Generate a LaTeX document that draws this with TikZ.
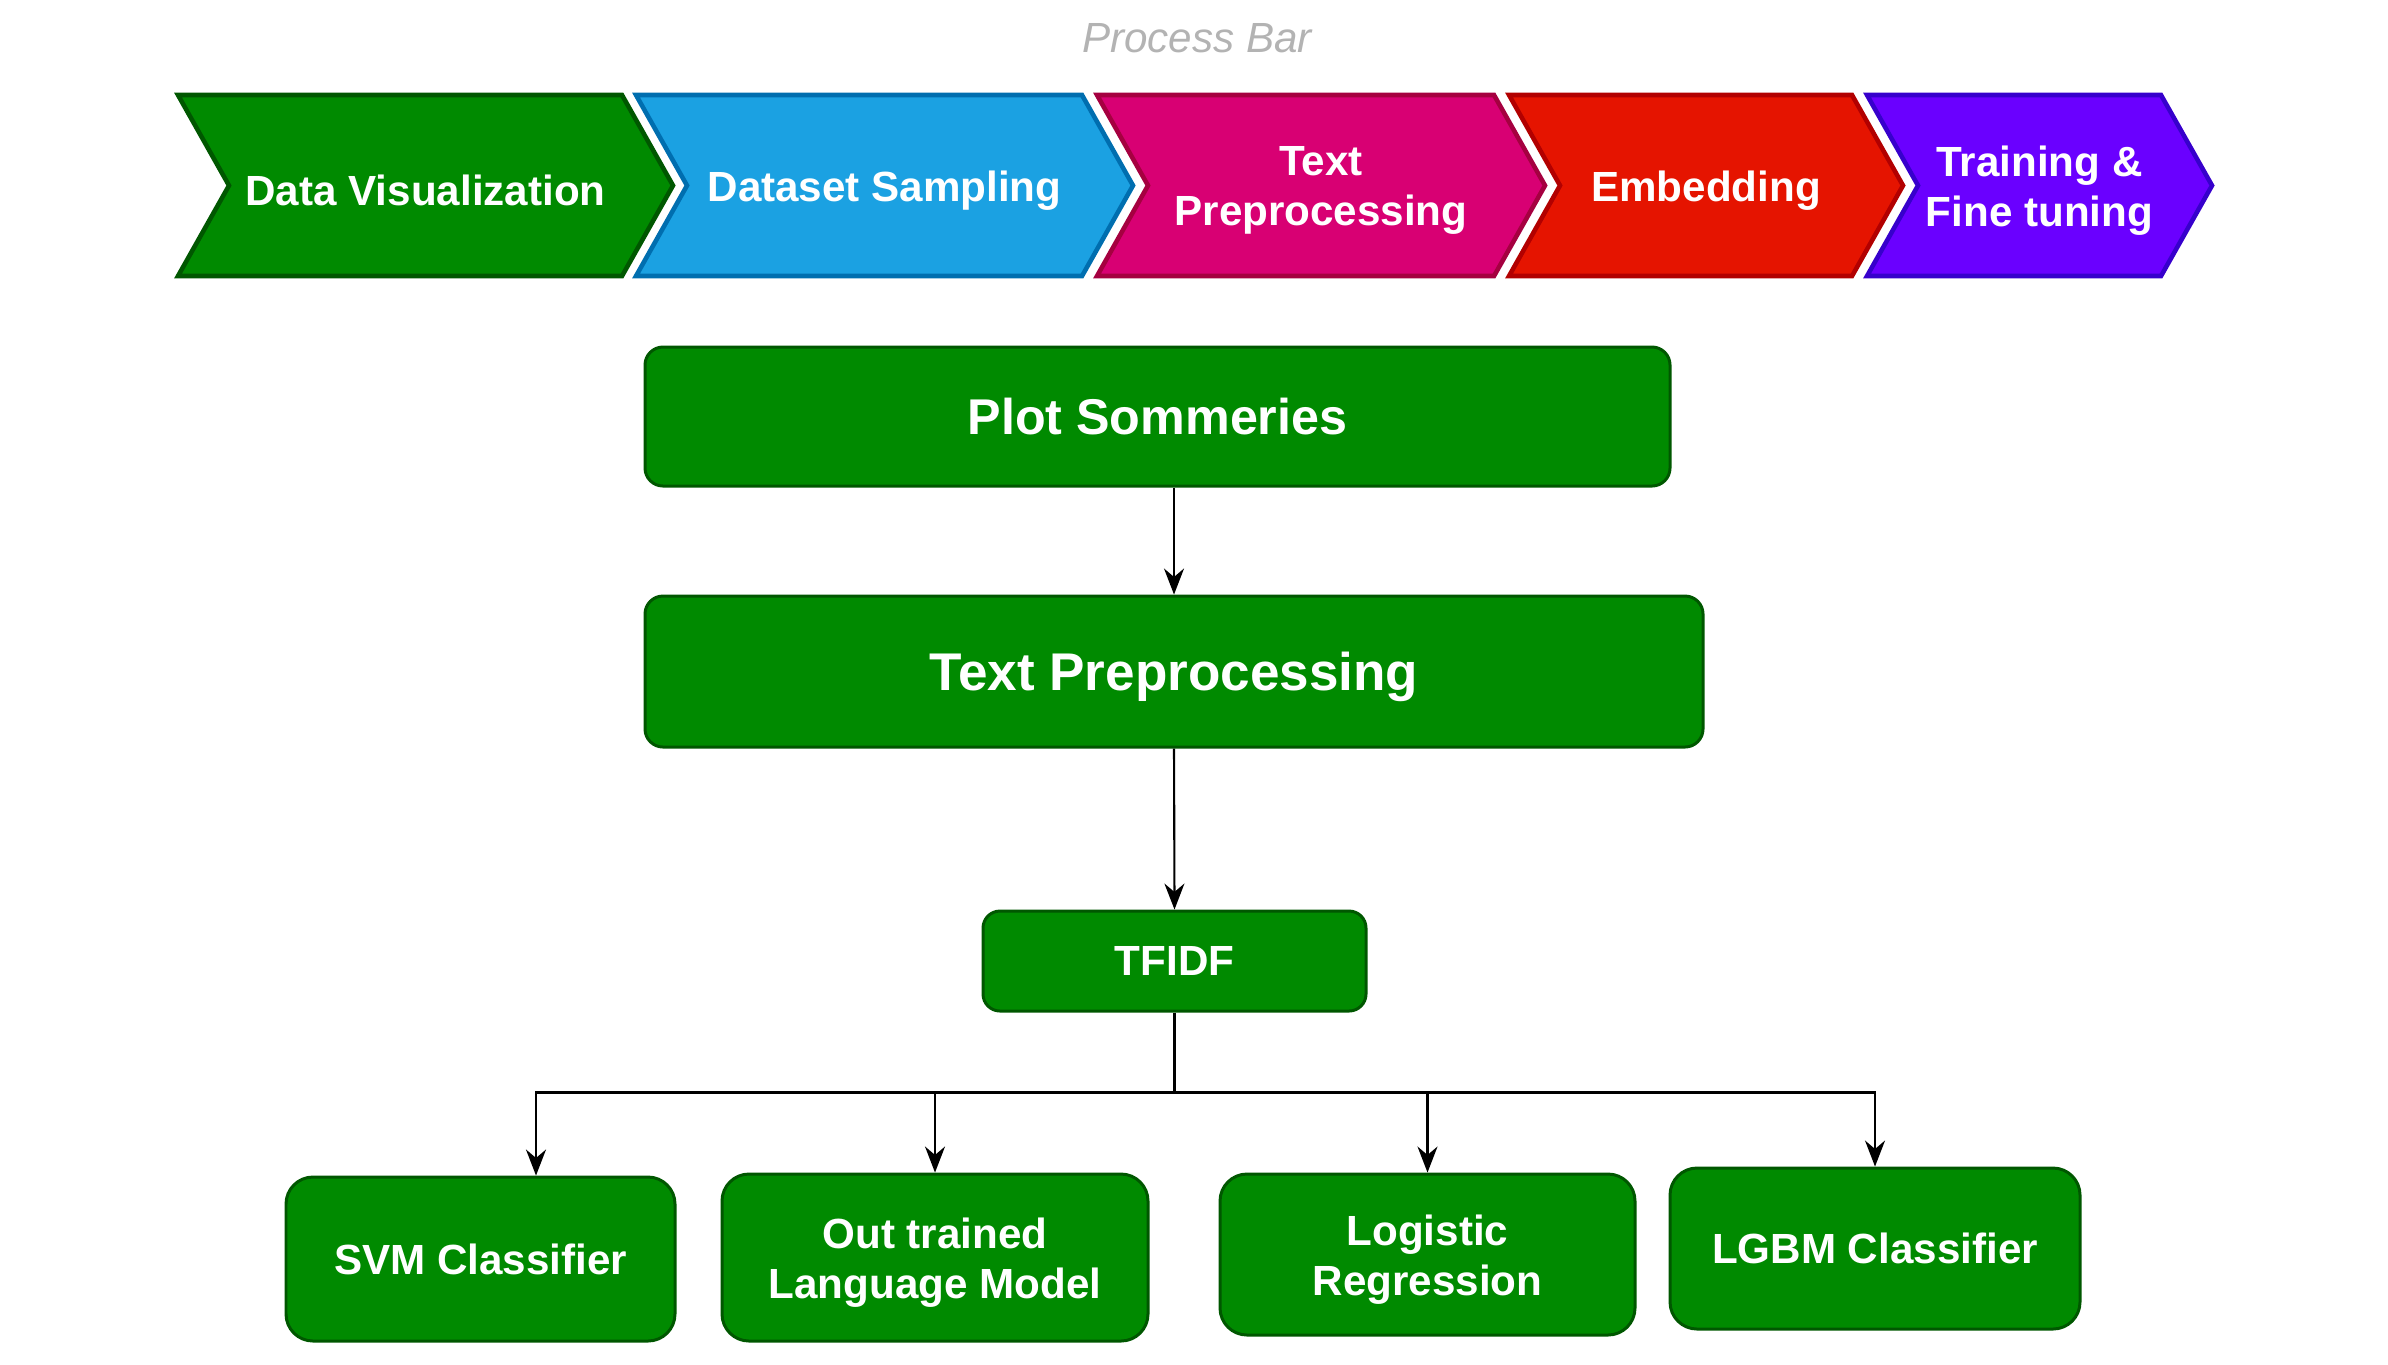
\documentclass[tikz,border=0pt]{standalone}
\usepackage{fontspec}
\setmainfont{Liberation Sans}
\usetikzlibrary{arrows.meta,positioning,calc}

\definecolor{vizgreen}{HTML}{008A00}
\definecolor{vizgreenline}{HTML}{005700}
\definecolor{sampleblue}{HTML}{1BA1E2}
\definecolor{sampleblueline}{HTML}{006EAF}
\definecolor{prepink}{HTML}{D80073}
\definecolor{prepinkline}{HTML}{A50040}
\definecolor{embedred}{HTML}{E51400}
\definecolor{embedredline}{HTML}{B20000}
\definecolor{trainviolet}{HTML}{6A00FF}
\definecolor{trainvioletline}{HTML}{3700CC}
\definecolor{bartitle}{HTML}{B3B3B3}

\newcommand{\topstrut}{\rule{0pt}{11.6pt}}

\tikzset{
  chevron/.style={line width=1.3pt, line join=miter},
  chevtext/.style={text=white, align=center, font=\bfseries\fontsize{12}{14.4}\selectfont},
  stagebox/.style={draw=vizgreenline, fill=vizgreen, line width=0.85pt, text=white,
    align=center, font=\bfseries\fontsize{12}{14.2}\selectfont, inner sep=0pt},
  link/.style={->, line width=0.6pt}
}

\begin{document}
\begin{tikzpicture}[y=-1cm, >={Stealth[length=2.6mm,width=2mm]}]
    \useasboundingbox (0,0) rectangle (23.88,13.64);

    % titre de la barre
    \node[text=bartitle, font=\itshape\fontsize{12}{14}\selectfont] (bar) at (11.97,0.38) {Process Bar};

    % barre des etapes (chevrons)
    \foreach \xl/\xr/\fc/\lc/\n/\t in {
        1.78/6.22/vizgreen/vizgreenline/datavis/{Data Visualization},
        6.36/10.82/sampleblue/sampleblueline/sampling/{Dataset Sampling},
        10.97/14.94/prepink/prepinkline/preproc/{Text\\Preprocessing},
        15.09/18.52/embedred/embedredline/embed/{Embedding},
        18.67/21.61/trainviolet/trainvioletline/train/{Training \&\\Fine tuning}} {
      \filldraw[chevron, fill=\fc, draw=\lc] (\xl,0.95) -- (\xl+0.51,1.855) -- (\xl,2.76)
          -- (\xr,2.76) -- (\xr+0.51,1.855) -- (\xr,0.95) -- cycle;
      \node[chevtext] (\n) at ({(\xl+\xr+0.51)/2},1.905) {\t};
    }

    % blocs principaux
    \node[stagebox, rounded corners=0.18cm, minimum width=10.25cm, minimum height=1.39cm,
          font=\bfseries\fontsize{14.3}{16}\selectfont] (plot) at (11.575,4.165) {Plot Sommeries};
    \node[stagebox, rounded corners=0.18cm, minimum width=10.58cm, minimum height=1.51cm,
          font=\bfseries\fontsize{15.1}{17}\selectfont, text height=13.8pt] (textpre) at (11.74,6.715) {Text Preprocessing};
    \node[stagebox, rounded corners=0.17cm, minimum width=3.83cm, minimum height=1.0cm] (tfidf) at (11.745,9.61) {TFIDF};

    % classifieurs
    \node[stagebox, rounded corners=0.27cm, minimum width=3.89cm, minimum height=1.64cm] (svm) at (4.805,12.59) {SVM Classifier};
    \node[stagebox, rounded corners=0.27cm, minimum width=4.26cm, minimum height=1.67cm] (outlm) at (9.35,12.575) {\topstrut Out trained\\Language Model};
    \node[stagebox, rounded corners=0.27cm, minimum width=4.15cm, minimum height=1.61cm] (logreg) at (14.275,12.545) {\topstrut Logistic\\Regression};
    \node[stagebox, rounded corners=0.27cm, minimum width=4.10cm, minimum height=1.61cm] (lgbm) at (18.75,12.485) {LGBM Classifier};

    % fleches
    \draw[link] (plot.south -| textpre.north) -- (textpre.north);
    \draw[link] (textpre.south) -- (tfidf.north);
    \coordinate[below=0.8cm of tfidf.south] (bus);
    \draw[line width=0.6pt] (tfidf.south) -- (bus);
    \draw[link] (bus) -| ([xshift=0.555cm]svm.north);
    \draw[link] (bus) -| (outlm.north);
    \draw[link] (bus) -| (logreg.north);
    \draw[link] (bus) -| (lgbm.north);
\end{tikzpicture}
\end{document}
